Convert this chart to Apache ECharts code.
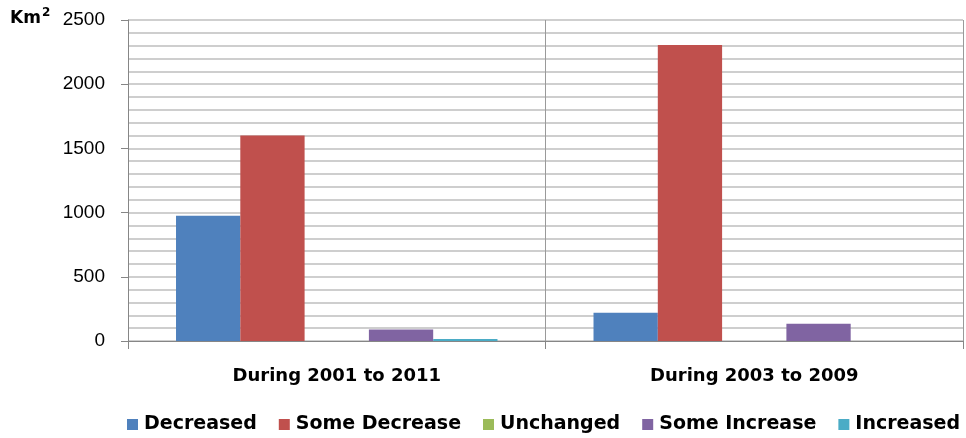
<!DOCTYPE html>
<html><head><meta charset="utf-8">
<script src="https://cdn.jsdelivr.net/npm/echarts@6/dist/echarts.min.js"></script>
<style>html,body{margin:0;padding:0;background:#fff}#c{width:966px;height:438px}</style>
</head><body><div id="c"></div>
<script>
const categories = ['During 2001 to 2011', 'During 2003 to 2009'];
const seriesNames = ['Decreased', 'Some Decrease', 'Unchanged', 'Some Increase', 'Increased'];
const decreased = [975, 220];
const someDecrease = [1600, 2305];
const unchanged = [0, 0];
const someIncrease = [90, 135];
const increased = [15, 0];
const colors = ['#4F81BD', '#C0504D', '#9BBB59', '#8064A2', '#4BACC6'];
const yTicks = [0, 500, 1000, 1500, 2000, 2500];

const values = [decreased, someDecrease, unchanged, someIncrease, increased];
const chart = echarts.init(document.getElementById('c'));
chart.setOption({
  animation: false,
  color: colors,
  grid: { left: 128, right: 3, top: 20, bottom: 97, containLabel: false },
  graphic: [
    { type: 'text', left: 10, top: 10, style: { text: 'Km', font: 'bold 17px "DejaVu Sans"', fill: '#000' } },
    { type: 'text', left: 42, top: 7, style: { text: '2', font: 'bold 12px "DejaVu Sans"', fill: '#000' } }
  ],
  legend: {
    bottom: -1, left: 122, itemWidth: 11, itemHeight: 11, itemGap: 22,
    icon: 'rect',
    textStyle: { fontFamily: 'DejaVu Sans', fontWeight: 'bold', fontSize: 19, color: '#000', padding: [0, 0, 0, 1] },
    data: seriesNames
  },
  xAxis: {
    type: 'category', data: categories,
    axisLine: { lineStyle: { color: '#868686', width: 1 } },
    axisTick: { show: true, interval: 0, length: 8, lineStyle: { color: '#868686' } },
    splitLine: { show: true, interval: 0, lineStyle: { color: '#9a9a9a', width: 1 } },
    axisLabel: { margin: 26, fontFamily: 'DejaVu Sans', fontWeight: 'bold', fontSize: 18, color: '#000' }
  },
  yAxis: {
    type: 'value', min: 0, max: 2500, interval: 500,
    axisLine: { show: true, lineStyle: { color: '#868686' } },
    axisTick: { show: true, length: 7, lineStyle: { color: '#868686' } },
    axisLabel: { margin: 23, fontFamily: 'Liberation Sans', fontSize: 19, color: '#000',
      formatter: v => yTicks.indexOf(v) >= 0 ? String(v) : '' },
    splitLine: { show: true, lineStyle: { color: '#BFBFBF', width: 1.5 } },
    minorTick: { show: false, splitNumber: 5 },
    minorSplitLine: { show: true, lineStyle: { color: '#BFBFBF', width: 1.5 } }
  },
  series: seriesNames.map((n, i) => ({
    name: n, type: 'bar', data: values[i], barGap: '0%', barCategoryGap: '23%'
  }))
});
</script></body></html>
